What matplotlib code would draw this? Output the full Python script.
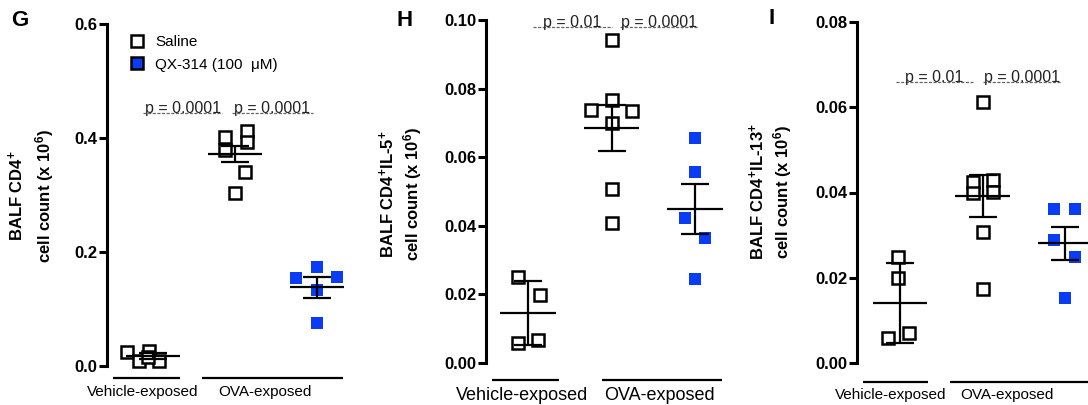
import numpy as np
import matplotlib
matplotlib.use('Agg')
import matplotlib.pyplot as plt
from matplotlib.lines import Line2D

plt.rcParams['font.family'] = ['Liberation Sans', 'DejaVu Sans']
plt.rcParams['mathtext.fontset'] = 'custom'
plt.rcParams['mathtext.rm'] = 'Liberation Sans:bold'
plt.rcParams['mathtext.it'] = 'Liberation Sans:bold'
plt.rcParams['mathtext.bf'] = 'Liberation Sans:bold'

BLUE = '#0a3cf5'
W, H = 1088, 405

# ---- data ----
groups = ['Vehicle-exposed', 'OVA-exposed']
legend_labels = ['Saline', 'QX-314 (100  \u03bcM)']

# G: BALF CD4+
g_vehicle = [0.025, 0.026, 0.009, 0.009, 0.016]
g_ova_saline = [0.402, 0.379, 0.412, 0.393, 0.340, 0.303]
g_ova_qx = [0.154, 0.174, 0.156, 0.133, 0.075]
g_mean = [0.017, 0.372, 0.138]
g_sem = [0.005, 0.0146, 0.018]
g_pvals = ['p = 0.0001', 'p = 0.0001']

# H: BALF CD4+IL-5+
h_vehicle = [0.0251, 0.0198, 0.0058, 0.0067]
h_ova_saline = [0.0942, 0.0767, 0.0738, 0.0735, 0.0700, 0.0507, 0.0408]
h_ova_qx = [0.0656, 0.0557, 0.0423, 0.0364, 0.0245]
h_mean = [0.0145, 0.0685, 0.0449]
h_sem = [0.0093, 0.0067, 0.0073]
h_pvals = ['p = 0.01', 'p = 0.0001']

# I: BALF CD4+IL-13+
i_vehicle = [0.0249, 0.0199, 0.0059, 0.0070]
i_ova_saline = [0.0612, 0.0425, 0.0429, 0.0399, 0.0401, 0.0307, 0.0174]
i_ova_qx = [0.0361, 0.0361, 0.0289, 0.0249, 0.0152]
i_mean = [0.0141, 0.0392, 0.0281]
i_sem = [0.0094, 0.0050, 0.0039]
i_pvals = ['p = 0.01', 'p = 0.0001']

# horizontal scatter of the points inside each column (group units)
g_jitter = [[-0.32, -0.05, -0.17, 0.07, -0.06],
            [-0.12, -0.12, 0.15, 0.15, 0.12, 0.0],
            [-0.26, 0.0, 0.24, 0.0, 0.0]]
h_jitter = [[-0.12, 0.14, -0.12, 0.12],
            [0.0, 0.0, -0.25, 0.25, 0.0, 0.0, 0.0],
            [0.0, 0.0, -0.12, 0.12, 0.0]]
i_jitter = [[-0.02, -0.02, -0.15, 0.11],
            [0.0, -0.12, 0.13, -0.12, 0.13, 0.0, 0.0],
            [-0.13, 0.12, -0.13, 0.12, 0.0]]

panels = [
    dict(letter='G', values=[g_vehicle, g_ova_saline, g_ova_qx], jitter=g_jitter,
         mean=g_mean, sem=g_sem, pvals=g_pvals,
         ylim=(0, 0.6), yticks=[0.0, 0.2, 0.4, 0.6], fmt='%.1f',
         ylab1=r'BALF CD4$^{+}$', ylab2=r'cell count (x 10$^{6}$)',
         box=(107, 24, 352, 366), c0=153, step=82,
         lab_x=(16, 45), lab_y=196, letter_xy=(20, 21),
         brackets=[(-0.49, 0.33), (0.60, 2.32)], br_dy=12,
         glabel_x=[-0.13, 1.37], gl_dy=26, gl_fs=11,
         p_y=0.444, p_spans=[(-0.12, 0.84), (0.96, 1.95)], legend=True),
    dict(letter='H', values=[h_vehicle, h_ova_saline, h_ova_qx], jitter=h_jitter,
         mean=h_mean, sem=h_sem, pvals=h_pvals,
         ylim=(0, 0.10), yticks=[0.0, 0.02, 0.04, 0.06, 0.08, 0.10], fmt='%.2f',
         ylab1=r'BALF CD4$^{+}$IL-5$^{+}$', ylab2=r'cell count (x 10$^{6}$)',
         box=(486, 20, 727, 363), c0=528, step=83.5,
         lab_x=(387, 413), lab_y=194, letter_xy=(405, 21),
         brackets=[(-0.43, 0.37), (0.89, 2.32)], br_dy=17,
         glabel_x=[-0.07, 1.57], gl_dy=32, gl_fs=13,
         p_y=0.098, p_spans=[(0.06, 1.0), (1.1, 2.04)], legend=False),
    dict(letter='I', values=[i_vehicle, i_ova_saline, i_ova_qx], jitter=i_jitter,
         mean=i_mean, sem=i_sem, pvals=i_pvals,
         ylim=(0, 0.08), yticks=[0.0, 0.02, 0.04, 0.06, 0.08], fmt='%.2f',
         ylab1=r'BALF CD4$^{+}$IL-13$^{+}$', ylab2=r'cell count (x 10$^{6}$)',
         box=(857, 22, 1088, 363), c0=900, step=82.5,
         lab_x=(757, 783), lab_y=192, letter_xy=(772, 19),
         brackets=[(-0.45, 0.34), (0.61, 2.6)], br_dy=19,
         glabel_x=[-0.11, 1.30], gl_dy=32, gl_fs=11,
         p_y=0.0659, p_spans=[(-0.05, 0.88), (1.0, 1.95)], legend=False),
]

fig = plt.figure(figsize=(W / 100, H / 100), dpi=100)

for p in panels:
    left, top, right, bottom = p['box']
    ax = fig.add_axes([left / W, 1 - bottom / H, (right - left) / W, (bottom - top) / H])
    ax.set_xlim((left - p['c0']) / p['step'], (right - p['c0']) / p['step'])
    ax.set_ylim(*p['ylim'])
    for side in ['top', 'right', 'bottom']:
        ax.spines[side].set_visible(False)
    ax.spines['left'].set_linewidth(2.2)
    ax.set_xticks([])
    ax.set_yticks(p['yticks'])
    ax.set_yticklabels([p['fmt'] % t for t in p['yticks']], fontsize=12, fontweight='bold')
    ax.tick_params(axis='y', length=6, width=2.2, pad=1)
    ax.patch.set_alpha(0)

    for k, vals in enumerate(p['values']):
        xs = k + np.array(p['jitter'][k])
        if k < 2:
            ax.plot(xs, vals, 's', ms=8, mfc='white', mec='black', mew=1.8,
                    clip_on=False, zorder=3)
        else:
            ax.plot(xs, vals, 's', ms=8.5, mfc=BLUE, mec=BLUE, mew=0,
                    clip_on=False, zorder=3)
        ax.hlines(p['mean'][k], k - 0.33, k + 0.33, color='black', lw=1.6, zorder=4)
        ax.errorbar(k, p['mean'][k], yerr=p['sem'][k], fmt='none', ecolor='black',
                    elinewidth=1.6, capsize=10, capthick=1.6, zorder=4)

    # p-value annotations
    for (x0, x1), txt in zip(p['p_spans'], p['pvals']):
        ax.plot([x0, x1], [p['p_y'], p['p_y']], color='#666666', lw=0.9,
                dashes=(2.5, 1.2), clip_on=False)
        ax.text((x0 + x1) / 2, p['p_y'], txt, ha='center', va='baseline',
                fontsize=11.5, color='#222222')

    # group brackets below the axis
    ah = bottom - top
    for (x0, x1) in p['brackets']:
        ax.plot([x0, x1], [-p['br_dy'] / ah] * 2, color='black', lw=1.6,
                transform=ax.get_xaxis_transform(), clip_on=False, solid_capstyle='butt')
    for gx, g in zip(p['glabel_x'], groups):
        ax.text(gx, -p['gl_dy'] / ah, g, ha='center', va='center', fontsize=p['gl_fs'],
                transform=ax.get_xaxis_transform())

    # y label (two lines) and panel letter
    fig.text(p['lab_x'][0] / W, 1 - p['lab_y'] / H, p['ylab1'], rotation=90,
             ha='center', va='center', fontsize=12, fontweight='bold')
    fig.text(p['lab_x'][1] / W, 1 - p['lab_y'] / H, p['ylab2'], rotation=90,
             ha='center', va='center', fontsize=12, fontweight='bold')
    fig.text(p['letter_xy'][0] / W, 1 - p['letter_xy'][1] / H, p['letter'],
             ha='center', va='center', fontsize=16, fontweight='bold')

    if p['legend']:
        handles = [Line2D([], [], ls='none', marker='s', ms=9, mfc='white', mec='black', mew=1.8),
                   Line2D([], [], ls='none', marker='s', ms=9, mfc=BLUE, mec='black', mew=1.8)]
        ax.legend(handles, legend_labels, loc='upper left', bbox_to_anchor=(0.065, 0.985),
                  frameon=False, fontsize=11, handlelength=1.0, handletextpad=0.7,
                  labelspacing=0.55, borderaxespad=0)

fig.savefig('out.png', dpi=100)
